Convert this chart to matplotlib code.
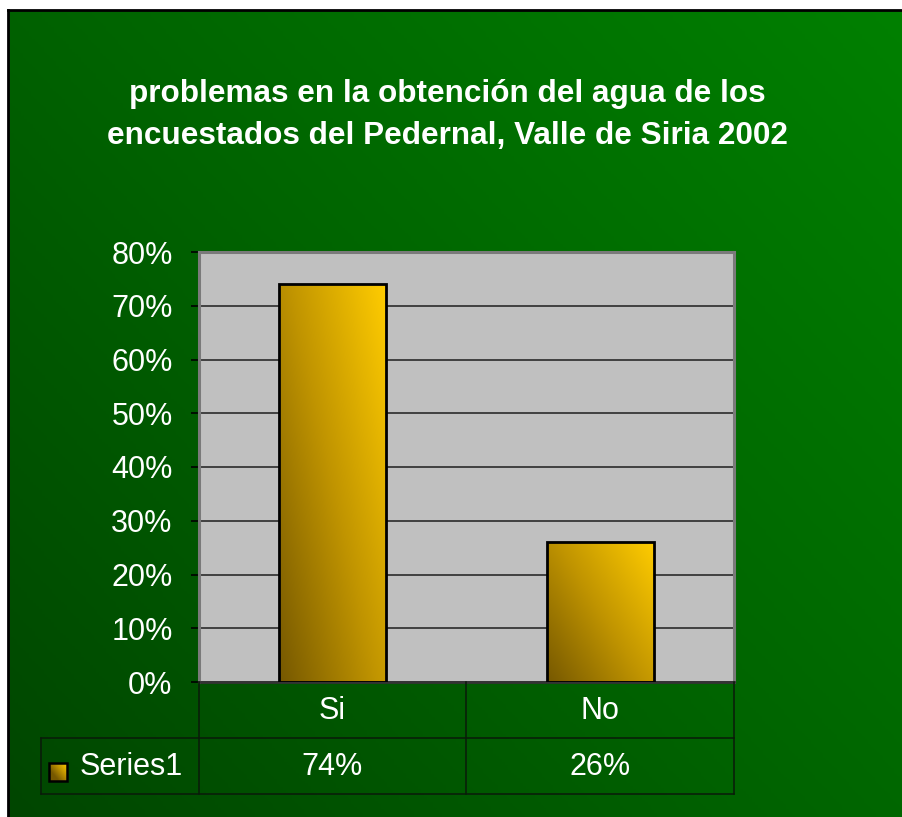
import numpy as np
import matplotlib
matplotlib.use("Agg")
import matplotlib.pyplot as plt
from matplotlib.colors import LinearSegmentedColormap
from matplotlib.lines import Line2D
from matplotlib.patches import Rectangle

plt.rcParams['font.family'] = ['Liberation Sans', 'DejaVu Sans']

title = "problemas en la obtención del agua de los\nencuestados del Pedernal, Valle de Siria 2002"
categories = ["Si", "No"]
values = [0.74, 0.26]
value_labels = ["74%", "26%"]
series_name = "Series1"
yticks = [0.0, 0.1, 0.2, 0.3, 0.4, 0.5, 0.6, 0.7, 0.8]

W, H = 903, 817
fig = plt.figure(figsize=(W / 100, H / 100), dpi=100)
fig.patch.set_facecolor("white")

def fx(px):
    return px / W

def fy(py):
    return 1 - py / H

# Background gradient (dark green bottom-left -> brighter green top-right)
bg = fig.add_axes([fx(8), 0, fx(W) - fx(8), fy(10)])
bg_cmap = LinearSegmentedColormap.from_list("bg", ["#004600", "#006400", "#008000"])
gx, gy = np.meshgrid(np.linspace(0, 1, 300), np.linspace(0, 1, 300))
grad = 0.55 * gx + 0.45 * gy
bg.imshow(grad, cmap=bg_cmap, origin="lower", extent=[0, 1, 0, 1], aspect="auto", vmin=0, vmax=1)
bg.set_xlim(0, 1)
bg.set_ylim(0, 1)
bg.set_xticks([])
bg.set_yticks([])
for side, s in bg.spines.items():
    if side in ("top", "left"):
        s.set_color("black")
        s.set_linewidth(2)
    else:
        s.set_visible(False)

fig.text(fx(447), fy(115), title, ha="center", va="center", color="white",
         fontsize=22.7, fontweight="bold", linespacing=1.52)

# Main plot
L, R, T, B = 199, 734, 252, 682
ax = fig.add_axes([fx(L), fy(B), fx(R) - fx(L), fy(T) - fy(B)])
ax.set_facecolor("#c0c0c0")
x = np.arange(len(categories))
ax.set_yticks(yticks)
ax.set_yticklabels([f"{int(round(v * 100))}%" for v in yticks], color="white", fontsize=22)
ax.set_xticks([])
ax.tick_params(axis="y", direction="out", length=6, width=1.2, color="black", pad=13)
ax.yaxis.grid(True, color="#2a2a2a", linewidth=1.2)
ax.set_axisbelow(True)
for side in ["top", "right", "left"]:
    ax.spines[side].set_color("#7a7a7a")
    ax.spines[side].set_linewidth(2.2)
ax.spines["bottom"].set_color("#333333")
ax.spines["bottom"].set_linewidth(2)

bar_cmap = LinearSegmentedColormap.from_list("bar", ["#765800", "#c09400", "#ffcc00"])
bars = ax.bar(x, values, width=0.4, facecolor="none", edgecolor="black", linewidth=2, zorder=3)
bgx, bgy = np.meshgrid(np.linspace(0, 1, 100), np.linspace(0, 1, 200))
bar_grad = 0.55 * bgx + 0.45 * bgy
for b in bars:
    x0, y0 = b.get_x(), b.get_y()
    w, h = b.get_width(), b.get_height()
    im = ax.imshow(bar_grad, cmap=bar_cmap, origin="lower", extent=[x0, x0 + w, y0, y0 + h],
                   aspect="auto", vmin=0, vmax=1, zorder=2)
    im.set_clip_path(b)
ax.set_xlim(-0.5, len(categories) - 0.5)
ax.set_ylim(0, 0.8)

# Data table below plot
tab = fig.add_axes([0, 0, 1, 1], facecolor="none")
tab.axis("off")
col_edges = [199, 466, 734]
r0, r1, r2 = 682, 738, 794
lc = "#0a1a0a"
lw = 1.1
tab.add_line(Line2D([41, 734], [r1, r1], color=lc, lw=lw))
tab.add_line(Line2D([41, 734], [r2, r2], color=lc, lw=lw))
tab.add_line(Line2D([41, 41], [r1, r2], color=lc, lw=lw))
for cx in col_edges:
    tab.add_line(Line2D([cx, cx], [r0, r2], color=lc, lw=lw))
for i, (cat, lab) in enumerate(zip(categories, value_labels)):
    cx = (col_edges[i] + col_edges[i + 1]) / 2
    tab.text(cx, (r0 + r1) / 2 + 1, cat, ha="center", va="center", color="white", fontsize=22)
    tab.text(cx, (r1 + r2) / 2 + 1, lab, ha="center", va="center", color="white", fontsize=22)

# legend key
key = Rectangle((49, 763), 18, 18, facecolor="none", edgecolor="black", lw=1.8, zorder=3)
tab.add_patch(key)
kim = tab.imshow(bar_grad, cmap=bar_cmap, origin="lower", extent=[49, 67, 781, 763],
                 aspect="auto", vmin=0.3, vmax=1, zorder=2)
kim.set_clip_path(key)
tab.set_xlim(0, W)
tab.set_ylim(H, 0)
tab.text(80, (r1 + r2) / 2 + 1, series_name, ha="left", va="center", color="white", fontsize=22)

fig.savefig("out.png", dpi=100, facecolor=fig.get_facecolor())
